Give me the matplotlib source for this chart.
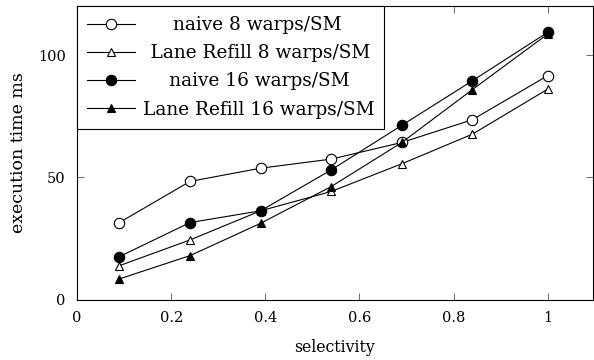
import matplotlib
matplotlib.use('Agg')
import matplotlib.pyplot as plt
from matplotlib.textpath import TextPath
from matplotlib.font_manager import FontProperties

plt.rcParams['font.family'] = ['DejaVu Serif']
plt.rcParams['mathtext.fontset'] = 'dejavuserif'

# selectivity on x, execution time (ms) on y
selectivity = [0.09, 0.24, 0.39, 0.54, 0.69, 0.84, 1.0]
naive_8 = [31.6, 48.4, 53.8, 57.5, 64.3, 73.6, 91.6]
refill_8 = [14.0, 24.5, 36.4, 44.3, 55.6, 67.7, 86.1]
naive_16 = [17.7, 31.6, 36.4, 53.1, 71.3, 89.5, 109.3]
refill_16 = [8.6, 18.1, 31.3, 46.3, 64.3, 85.9, 108.6]

labels = ['naive 8 warps/SM', 'Lane Refill 8 warps/SM',
          'naive 16 warps/SM', 'Lane Refill 16 warps/SM']

fig = plt.figure(figsize=(5.94, 3.6), dpi=100)
ax = fig.add_axes([0.1296, 0.1667, 0.8687, 0.8166])

series = [naive_8, refill_8, naive_16, refill_16]
markers = ['o', '^', 'o', '^']
fills = ['white', 'white', 'black', 'black']
sizes = [7.5, 5.5, 7.5, 5.5]

# pgfplots centres legend entries: pad the shorter labels with thin spaces
leg_size = 13.3
fp = FontProperties(family='DejaVu Serif', size=leg_size)
def text_w(s):
    return TextPath((0, 0), s, prop=fp).get_extents().width
thin = '\u2009'
thin_w = text_w('a' + thin + 'a') - text_w('aa')
widest = max(text_w(l) for l in labels)
padded = [thin * int(round((widest - text_w(l)) / 2 / thin_w)) + l for l in labels]

for vals, m, fc, ms, lab in zip(series, markers, fills, sizes, padded):
    ax.plot(selectivity, vals, color='black', lw=0.8, marker=m, ms=ms,
            mfc=fc, mec='black', mew=0.8, label=lab)

ax.set_xlim(0, 1.096)
ax.set_ylim(0, 120)
ax.set_xticks([0, 0.2, 0.4, 0.6, 0.8, 1])
ax.set_xticklabels(['0', '0.2', '0.4', '0.6', '0.8', '1'])
ax.set_yticks([0, 50, 100])
ax.tick_params(direction='in', length=5, width=0.6, color='#555555',
               top=True, right=True, labelsize=10.5)
ax.tick_params(axis='x', pad=8)
ax.tick_params(axis='y', pad=8)
for s in ax.spines.values():
    s.set_linewidth(0.8)
ax.set_xlabel('selectivity', fontsize=11.3, labelpad=10)
ax.set_ylabel('execution time ms', fontsize=12.5, labelpad=8)

leg = ax.legend(loc='upper left', borderaxespad=0, fancybox=False,
                edgecolor='black', framealpha=1, fontsize=leg_size,
                handlelength=2.6, handletextpad=0.4, labelspacing=0.55,
                borderpad=0.55)
leg.get_frame().set_linewidth(0.8)

fig.savefig('out.png', dpi=100)
